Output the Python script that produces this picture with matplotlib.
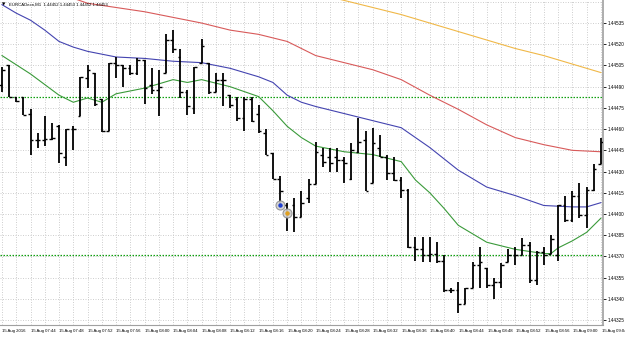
import matplotlib
matplotlib.use("Agg")
import matplotlib.pyplot as plt
import numpy as np

# ---------------- data (EURCADecn, M1, 15 Aug 2016 07:40 - 09:04) ----------------
TIME_LABELS = ["15 Aug 2016", "15 Aug 07:44", "15 Aug 07:48", "15 Aug 07:52", "15 Aug 07:56",
               "15 Aug 08:00", "15 Aug 08:04", "15 Aug 08:08", "15 Aug 08:12", "15 Aug 08:16",
               "15 Aug 08:20", "15 Aug 08:24", "15 Aug 08:28", "15 Aug 08:32", "15 Aug 08:36",
               "15 Aug 08:40", "15 Aug 08:44", "15 Aug 08:48", "15 Aug 08:52", "15 Aug 08:56",
               "15 Aug 09:00", "15 Aug 09:04"]

OPEN = [1.44491, 1.44505, 1.44483, 1.44483, 1.44471, 1.44452, 1.44452, 1.44453, 1.44462, 1.44440,
        1.44460, 1.44469, 1.44496, 1.44500, 1.44481, 1.44459, 1.44507, 1.44505, 1.44503, 1.44500,
        1.44509, 1.44491, 1.44488, 1.44500, 1.44523, 1.44511, 1.44486, 1.44475, 1.44507, 1.44507,
        1.44486, 1.44495, 1.44484, 1.44481, 1.44468, 1.44481, 1.44471, 1.44457, 1.44443, 1.44425,
        1.44406, 1.44406, 1.44398, 1.44411, 1.44421, 1.44442, 1.44440, 1.44440, 1.44438, 1.44425,
        1.44444, 1.44452, 1.44422, 1.44447, 1.44440, 1.44429, 1.44424, 1.44417, 1.44377, 1.44375,
        1.44371, 1.44372, 1.44367, 1.44346, 1.44346, 1.44336, 1.44348, 1.44364, 1.44362, 1.44350,
        1.44352, 1.44366, 1.44371, 1.44371, 1.44378, 1.44353, 1.44373, 1.44372, 1.44371, 1.44406,
        1.44396, 1.44413, 1.44399, 1.44417, 1.44435]
HIGH = [1.44504, 1.44505, 1.44483, 1.44483, 1.44474, 1.44457, 1.44469, 1.44464, 1.44463, 1.44460,
        1.44462, 1.44497, 1.44505, 1.44500, 1.44481, 1.44507, 1.44511, 1.44505, 1.44505, 1.44510,
        1.44509, 1.44503, 1.44502, 1.44527, 1.44530, 1.44517, 1.44488, 1.44504, 1.44524, 1.44507,
        1.44500, 1.44500, 1.44484, 1.44483, 1.44483, 1.44483, 1.44477, 1.44460, 1.44443, 1.44427,
        1.44408, 1.44411, 1.44416, 1.44425, 1.44451, 1.44447, 1.44447, 1.44447, 1.44440, 1.44450,
        1.44468, 1.44459, 1.44461, 1.44456, 1.44442, 1.44440, 1.44426, 1.44418, 1.44384, 1.44384,
        1.44384, 1.44380, 1.44371, 1.44348, 1.44352, 1.44348, 1.44366, 1.44377, 1.44362, 1.44355,
        1.44365, 1.44375, 1.44377, 1.44383, 1.44380, 1.44374, 1.44377, 1.44385, 1.44406, 1.44413,
        1.44416, 1.44422, 1.44419, 1.44435, 1.44454]
LOW = [1.44486, 1.44483, 1.44479, 1.44470, 1.44442, 1.44447, 1.44448, 1.44452, 1.44436, 1.44434,
       1.44445, 1.44469, 1.44489, 1.44476, 1.44458, 1.44459, 1.44496, 1.44490, 1.44498, 1.44498,
       1.44478, 1.44485, 1.44469, 1.44500, 1.44514, 1.44482, 1.44470, 1.44471, 1.44507, 1.44485,
       1.44486, 1.44476, 1.44475, 1.44466, 1.44459, 1.44465, 1.44457, 1.44442, 1.44425, 1.44406,
       1.44388, 1.44387, 1.44398, 1.44408, 1.44421, 1.44433, 1.44430, 1.44430, 1.44422, 1.44424,
       1.44443, 1.44416, 1.44422, 1.44440, 1.44424, 1.44423, 1.44411, 1.44376, 1.44367, 1.44366,
       1.44366, 1.44365, 1.44345, 1.44344, 1.44330, 1.44336, 1.44348, 1.44348, 1.44348, 1.44340,
       1.44348, 1.44366, 1.44364, 1.44371, 1.44351, 1.44350, 1.44364, 1.44372, 1.44367, 1.44394,
       1.44394, 1.44397, 1.44390, 1.44416, 1.44435]
CLOSE = [1.44502, 1.44483, 1.44480, 1.44470, 1.44452, 1.44452, 1.44453, 1.44454, 1.44443, 1.44460,
         1.44460, 1.44497, 1.44502, 1.44478, 1.44459, 1.44507, 1.44505, 1.44503, 1.44500, 1.44509,
         1.44489, 1.44488, 1.44490, 1.44523, 1.44517, 1.44486, 1.44476, 1.44504, 1.44519, 1.44486,
         1.44495, 1.44495, 1.44477, 1.44468, 1.44481, 1.44466, 1.44459, 1.44442, 1.44425, 1.44416,
         1.44401, 1.44398, 1.44408, 1.44421, 1.44444, 1.44437, 1.44436, 1.44438, 1.44436, 1.44445,
         1.44451, 1.44416, 1.44450, 1.44440, 1.44429, 1.44424, 1.44417, 1.44377, 1.44375, 1.44371,
         1.44372, 1.44367, 1.44346, 1.44346, 1.44336, 1.44348, 1.44364, 1.44366, 1.44350, 1.44352,
         1.44364, 1.44371, 1.44371, 1.44378, 1.44353, 1.44373, 1.44371, 1.44382, 1.44406, 1.44396,
         1.44413, 1.44399, 1.44417, 1.44432, 1.44451]

# moving averages, read at selected bar indices
MA_GREEN_IDX = [0, 4, 8, 10, 12, 14, 16, 20, 24, 26, 28, 32, 36, 37, 38, 40, 42, 44, 48, 52, 56,
                58, 60, 62, 64, 68, 72, 76, 77, 78, 80, 82, 84]
MA_GREEN = [1.44512, 1.44499, 1.44484, 1.44479, 1.44482, 1.44479, 1.44485, 1.44489, 1.44495, 1.44493,
            1.44495, 1.44490, 1.44483, 1.44478, 1.44473, 1.44462, 1.44454, 1.44448, 1.44444, 1.44442,
            1.44437, 1.44424, 1.44415, 1.44404, 1.44392, 1.44380, 1.44375, 1.44372, 1.44372, 1.44376,
            1.44381, 1.44387, 1.44397]
MA_BLUE_IDX = [0, 2, 4, 6, 8, 10, 12, 16, 20, 24, 28, 32, 36, 38, 40, 42, 44, 48, 52, 56, 58, 60,
               64, 68, 72, 76, 80, 82, 84]
MA_BLUE = [1.44548, 1.44542, 1.44537, 1.44530, 1.44522, 1.44518, 1.44515, 1.44511, 1.44510, 1.44508,
           1.44507, 1.44503, 1.44497, 1.44493, 1.44484, 1.44479, 1.44476, 1.44471, 1.44466, 1.44461,
           1.44454, 1.44447, 1.44431, 1.44419, 1.44413, 1.44406, 1.44405, 1.44405, 1.44408]
MA_RED_IDX = [8, 12, 16, 20, 24, 28, 32, 36, 40, 42, 44, 48, 52, 56, 60, 64, 68, 72, 76, 80, 84]
MA_RED = [1.44556, 1.44549, 1.44546, 1.44543, 1.44539, 1.44535, 1.44530, 1.44527, 1.44522, 1.44517,
          1.44512, 1.44507, 1.44502, 1.44495, 1.44484, 1.44474, 1.44463, 1.44454, 1.44449, 1.44445,
          1.44444]
MA_ORANGE_IDX = [44, 48, 52, 56, 60, 64, 68, 72, 76, 80, 84]
MA_ORANGE = [1.44556, 1.44551, 1.44546, 1.44541, 1.44535, 1.44529, 1.44523, 1.44517, 1.44512,
             1.44506, 1.44500]

LEVELS = [1.44483, 1.44371]
PRICE_TICKS = [1.44325, 1.44340, 1.44355, 1.44370, 1.44385, 1.44400, 1.44415, 1.44430, 1.44445,
               1.44460, 1.44475, 1.44490, 1.44505, 1.44520, 1.44535]
TRADE_IDX = [39, 40]
TRADE_PRICE = [1.44406, 1.44401]
TRADE_COLORS = ["#2040d0", "#e0a020"]
HEADER = "EURCADecn,M1  1.44452 1.44453 1.44452 1.44453"

# ---------------- figure ----------------
W, H = 625, 337
FONT = ["Liberation Sans", "DejaVu Sans"]
fig = plt.figure(figsize=(W / 100, H / 100), dpi=100)
PLOT_R, PLOT_B = 603, 325
ax = fig.add_axes([0, 1 - PLOT_B / H, PLOT_R / W, PLOT_B / H])
n = len(CLOSE)
x = np.arange(n)
ax.set_xlim(-0.28, 84.3)
ax.set_ylim(1.443215, 1.445513)

for s in ["top", "left"]:
    ax.spines[s].set_visible(False)
ax.spines["right"].set_color("#a0a0a0")
ax.spines["right"].set_linewidth(1.2)
ax.spines["bottom"].set_color("#a0a0a0")
ax.spines["bottom"].set_linewidth(0.8)

# grid
for gx in range(0, n + 1, 2):
    ax.axvline(gx, color="#c8c8c8", lw=0.6, ls=(0, (1.2, 1.8)), zorder=0)
for gp in np.arange(1.44310, 1.44560, 0.00015):
    ax.axhline(gp, color="#c8c8c8", lw=0.6, ls=(0, (1.2, 1.8)), zorder=0)

# levels
for lv in LEVELS:
    ax.axhline(lv, color="#10a010", lw=0.9, ls=(0, (1.2, 1.2)), zorder=1)

# moving averages
ax.plot(MA_ORANGE_IDX, MA_ORANGE, color="#f0b848", lw=0.8, zorder=2)
ax.plot(MA_RED_IDX, MA_RED, color="#d85a5a", lw=0.8, zorder=2)
ax.plot(MA_BLUE_IDX, MA_BLUE, color="#4444b0", lw=0.8, zorder=2)
ax.plot(MA_GREEN_IDX, MA_GREEN, color="#3a9a3a", lw=0.8, zorder=2)

# OHLC bars
tw = 0.38
ax.vlines(x, LOW, HIGH, color="black", lw=1.3, zorder=3)
ax.hlines(OPEN, x - tw, x, color="black", lw=1.0, zorder=3)
ax.hlines(CLOSE, x, x + tw, color="black", lw=1.0, zorder=3)

# trade markers
for ti, tp, tc in zip(TRADE_IDX, TRADE_PRICE, TRADE_COLORS):
    ax.plot(ti, tp, "o", ms=6.5, mfc="#d0d0d0", mec="#909090", mew=0.8, zorder=4, alpha=0.9)
    ax.plot(ti, tp, "o", ms=2.2, mfc=tc, mec=tc, zorder=5)

ax.set_xticks([])
ax.yaxis.tick_right()
ax.set_yticks(PRICE_TICKS)
ax.set_yticklabels([f"{p:.5f}" for p in PRICE_TICKS])
ax.tick_params(axis="y", length=2.5, width=0.6, color="black", pad=1.0, labelsize=3.3,
               labelcolor="black")
for lab in ax.get_yticklabels():
    lab.set_family(FONT)

# time labels
for k, lab in enumerate(TIME_LABELS):
    xi = k * 4
    xp = (2 + 7.14 * xi) / W
    fig.text(xp, 1 - 331 / H, lab, fontsize=3.1, ha="left", va="center",
             family=FONT, color="black")

fig.text(2 / W, 1 - 5 / H, "\u25BC", fontsize=3.2, ha="left", va="center", color="black")
fig.text(9 / W, 1 - 5 / H, HEADER, fontsize=3.1, ha="left", va="center",
         family=FONT, color="black")

fig.savefig("out.png", dpi=100, facecolor="white")
